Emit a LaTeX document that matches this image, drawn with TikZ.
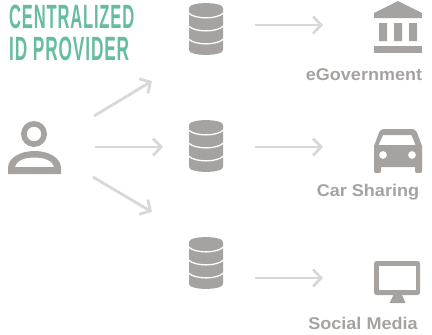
\documentclass[tikz,border=0pt]{standalone}
\usepackage{fontspec}
\usepackage{graphicx}
\setmainfont{Liberation Sans}
\newfontfamily\titlefont[LetterSpace=5]{Liberation Sans Bold}
\usetikzlibrary{arrows.meta}
\definecolor{icongrey}{HTML}{A5A2A0}
\definecolor{arrowgrey}{HTML}{D9D8D6}
\definecolor{titlegreen}{HTML}{66BC9E}
\newcommand{\captxt}[1]{\scalebox{1.06}[1]{#1}}
\tikzset{
  iconbox/.style={inner sep=0pt,outer sep=0pt,minimum width=#1},
  flow/.style={draw=arrowgrey,line width=2.8pt,-{Straight Barb[length=8pt,width=17pt,line width=2.8pt]}},
  caption/.style={inner sep=0pt,text=icongrey,font=\bfseries\fontsize{17pt}{19pt}\selectfont},
  titletext/.style={inner sep=0pt,anchor=north west,text=titlegreen},
  database/.pic={
    \fill[icongrey] (0,5) .. controls (0,-1.5) and (34,-1.5) .. (34,5) -- (34,47)
       .. controls (34,53.5) and (0,53.5) .. (0,47) -- cycle;
    \foreach \y in {10,23,36}
      \draw[white,line width=1.3pt] (-0.5,\y) .. controls (6,\y+6.5) and (28,\y+6.5) .. (34.5,\y);
  }
}
\begin{document}
\begin{tikzpicture}[x=1pt,y=-1pt]
\useasboundingbox (0,0) rectangle (432,335);
% titles
\node[titletext] (t1) at (9,5) {\resizebox{125pt}{23.5pt}{\titlefont CENTRALIZED}};
\node[titletext] (t2) at (9,37) {\resizebox{120pt}{23.5pt}{\titlefont ID PROVIDER}};
% anchor nodes
\node[iconbox=53pt,minimum height=24pt] (user) at (34.5,147) {};
\node[iconbox=34pt,minimum height=44pt] (db1) at (206,25) {};
\node[iconbox=34pt,minimum height=52pt] (db2) at (206,147) {};
\node[iconbox=34pt,minimum height=52pt] (db3) at (206,263) {};
\node[iconbox=48pt,minimum height=48pt] (gov) at (398,25) {};
\node[iconbox=48pt,minimum height=36pt] (car) at (398,147) {};
\node[iconbox=46pt,minimum height=36pt] (scr) at (397,278) {};
% user icon
\fill[icongrey,even odd rule] (34,134) circle (13) (34,134) circle (7.3);
\fill[icongrey,even odd rule]
  (8,174) -- (8,168) .. controls (8,158) and (20,151) .. (34.5,151)
  .. controls (49,151) and (61,158) .. (61,168) -- (61,174) -- cycle
  (15,167) -- (54,167) .. controls (53,161) and (45,157.5) .. (34.5,157.5)
  .. controls (24,157.5) and (16,161) .. (15,167) -- cycle;
% databases
\pic at (189,3) {database};
\pic at (189,120) {database};
\pic at (189,237) {database};
% government icon
\fill[icongrey] (374,13) -- (398,1) -- (422,13) -- (422,18) -- (374,18) -- cycle;
\fill[icongrey] (379,23) rectangle (387,41) (394,23) rectangle (402,41) (409,23) rectangle (417,41);
\fill[icongrey] (374,46) rectangle (422,53);
% car icon
\fill[icongrey,even odd rule]
  (374,146) -- (379,132.5) .. controls (380,130) and (382,129) .. (384,129)
  -- (412,129) .. controls (414,129) and (416,130) .. (417,132.5) -- (422,146)
  -- (422,171) .. controls (422,172.5) and (421,173) .. (420,173) -- (417,173)
  .. controls (416,173) and (415,172.5) .. (415,171) -- (415,167) -- (381,167) -- (381,171)
  .. controls (381,172.5) and (380,173) .. (379,173) -- (376,173)
  .. controls (375,173) and (374,172.5) .. (374,171) -- cycle
  (378.5,145) -- (383,135) -- (411.5,135) -- (415.5,145) -- cycle
  (383,155) circle (4) (412,155) circle (4);
% screen icon
\fill[icongrey,even odd rule,rounded corners=2.5pt] (374,261) rectangle (420,295);
\fill[white] (378.5,265.5) rectangle (416,290);
\fill[icongrey] (394,294) -- (401.5,294) -- (405.5,303) -- (389.5,303) -- cycle;
% captions
\node[caption] (c1) at (364,74.5) {\captxt{eGovernment}};
\node[caption] (c2) at (368,192.5) {\captxt{Car Sharing}};
\node[caption] (c3) at (363,323) {\captxt{Social Media}};
% connectors
\coordinate (ua) at (94,116);
\coordinate (da) at (152,81);
\coordinate (ub) at (93,177);
\coordinate (db) at (152,212);
\draw[flow] (ua) -- (da);
\draw[flow,shorten <=34pt,shorten >=26pt] (user.east) -- (db2.west);
\draw[flow] (ub) -- (db);
\draw[flow,shorten <=32pt,shorten >=51pt] (db1.east) -- (gov.west);
\draw[flow,shorten <=32pt,shorten >=51pt] (db2.east) -- (car.west);
\draw[flow,shorten <=32pt,shorten >=51pt] (db3.east |- scr.west) -- (scr.west);
\end{tikzpicture}
\end{document}
